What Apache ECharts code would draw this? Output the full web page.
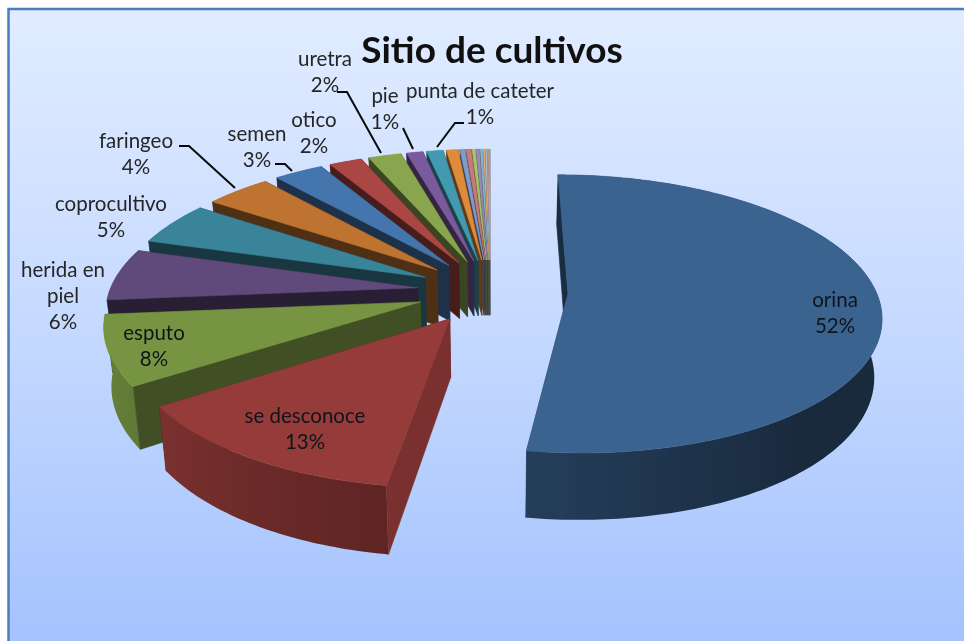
<!DOCTYPE html>
<html>
<head>
<meta charset="utf-8">
<style>html,body{margin:0;padding:0;background:#fff}#chart{width:964px;height:641px}</style>
<script src="https://cdn.jsdelivr.net/npm/echarts@6/dist/echarts.min.js"></script>
</head>
<body>
<div id="chart"></div>
<script>
// Culture sites, percent of samples; the trailing unnamed entries are too small to be labelled.
const categories = ['orina', 'se desconoce', 'esputo', 'herida en piel', 'coprocultivo', 'faringeo',
  'semen', 'otico', 'uretra', 'pie', 'punta de cateter',
  '', '', '', '', '', '', '', '', '', '', ''];
const values = [52, 13, 8, 6, 5, 4, 3, 2, 2, 1, 1,
  0.7, 0.3, 0.3, 0.2, 0.2, 0.15, 0.1, 0.1, 0.05, 0.05, 0.05];
const palette = ['#3A6390', '#953B39', '#779442', '#604A7B', '#3A8499', '#BE7330',
  '#4575AD', '#AA4643', '#89A54E', '#7A5A9C', '#419AB0', '#E08A3C',
  '#7F9CCB', '#C87A78', '#A5C46F', '#9A88B8', '#7FB8CC', '#F0A868',
  '#A9B9D8', '#D9A9A8', '#C4D6A4', '#C8BED8'];

// Label text anchors and elbow leader lines, by category index.
const labelAnchors = [[835, 313], [305, 429], [154, 346], [63, 296], [111, 217], [136, 154],
  [257, 147], [314, 133], [325, 72], [385, 109], [480, 104]];
const leaders = {
  5: [[179, 146], [189, 146], [235, 188]],
  6: [[275, 164], [285, 164], [292, 171]],
  8: [[337, 92], [347, 92], [381, 153]],
  9: [[403, 128], [413, 149]],
  10: [[464, 123], [455, 123], [437, 147]]
};

// Perspective model of the pie: a flat disc seen from above, exploded along each bisector.
const view = { cx: 490, cy: 291, horizon: -640, persp: 4.72e-4, radius: 308, explode: 73, leadExplode: 78, height: 57, baseScale: 0.98 };
const total = values.reduce((a, b) => a + b, 0);
const DEG = Math.PI / 180;

function project(X, Y, isBase) {
  const s = 1 / (1 + view.persp * Y);
  return [
    view.cx + X * s * (isBase ? view.baseScale : 1),
    view.horizon + (view.cy - view.horizon) * s + (isBase ? view.height * s : 0)
  ];
}
function shade(hex, m) {
  const n = parseInt(hex.slice(1), 16);
  const c = [n >> 16, (n >> 8) & 255, n & 255].map(v => Math.round(v * m));
  return 'rgb(' + c.join(',') + ')';
}
function lerpTable(table, a) {
  if (a <= table[0][0]) return table[0][1];
  for (let i = 1; i < table.length; i++) {
    if (a <= table[i][0]) {
      const t = (a - table[i - 1][0]) / (table[i][0] - table[i - 1][0]);
      return table[i - 1][1] + t * (table[i][1] - table[i - 1][1]);
    }
  }
  return table[table.length - 1][1];
}
// Brightness of the rim and of the radial cut faces, by compass angle.
const rimLight = [[0, 0.42], [140, 0.42], [187, 0.62], [234, 0.82], [270, 0.9], [360, 0.9]];
const cutLight = [[0, 0.44], [100, 0.44], [187, 0.82], [234, 0.55], [263, 0.42], [360, 0.42]];

function poly(points, fill, z2) {
  return { type: 'polygon', silent: true, z2: z2, shape: { points: points },
    style: { fill: fill, stroke: fill, lineWidth: 0.6 } };
}
function renderSlice(params, api) {
  const i = params.dataIndex;
  const value = api.value(0);
  let before = 0;
  for (let k = 0; k < i; k++) before += values[k];
  const a0 = before / total * 360;
  const a1 = (before + value) / total * 360;
  const mid = (a0 + a1) / 2 * DEG;
  const pull = i === 0 ? view.leadExplode : view.explode;
  const ox = pull * Math.sin(mid);
  const oy = pull * Math.cos(mid);
  const at = (deg, r, isBase) => project(ox + r * Math.sin(deg * DEG), oy + r * Math.cos(deg * DEG), isBase);
  const color = palette[i];
  const base = i === 0 ? 900 : 800 - i * 10;
  const kids = [];
  const cutFace = a => poly([at(a, 0, false), at(a, view.radius, false), at(a, view.radius, true), at(a, 0, true)],
    shade(color, lerpTable(cutLight, a)), 0);

  // Far cut face first; it is nearly always covered by the rest of the slice
  const far = cutFace(a1); far.z2 = base; kids.push(far);

  // Rim as one polygon; the gradient follows the light along the part that faces the viewer
  const steps = Math.max(2, Math.ceil(a1 - a0));
  const upper = [], lower = [], samples = [];
  for (let s = 0; s <= steps; s++) {
    const a = a0 + (a1 - a0) * s / steps;
    const t = at(a, view.radius, false);
    upper.push(t);
    lower.unshift(at(a, view.radius, true));
    if (Math.cos(a * DEG) <= 0.1) samples.push([t[0], lerpTable(rimLight, a)]);
  }
  let rimFill = shade(color, lerpTable(rimLight, (a0 + a1) / 2));
  if (samples.length > 1) {
    samples.sort((p, q) => p[0] - q[0]);
    const xMin = samples[0][0], xMax = samples[samples.length - 1][0];
    const span = Math.max(1e-3, xMax - xMin);
    rimFill = new echarts.graphic.LinearGradient(xMin, 0, xMax, 0,
      samples.map(p => ({ offset: (p[0] - xMin) / span, color: shade(color, p[1]) })), true);
  }
  kids.push({ type: 'polygon', silent: true, z2: base + 1, shape: { points: upper.concat(lower) },
    style: { fill: rimFill } });

  // Near cut face, then the top face over everything
  const near = cutFace(a0); near.z2 = base + 2; kids.push(near);
  const top = [at(a0, 0, false)].concat(upper);
  kids.push(poly(top, color, base + 3));

  // Text label and leader line
  if (labelAnchors[i]) {
    const name = categories[i].indexOf(' en ') > 0 ? categories[i].replace('en ', 'en\n') : categories[i];
    const [lx, ly] = labelAnchors[i];
    kids.push({ type: 'text', silent: true, z2: 2000, x: lx, y: ly, style: {
      text: name + '\n' + Math.round(value) + '%', fill: i < 3 ? '#10151c' : '#262626',
      font: '20.5px Lato, "Open Sans", sans-serif', align: 'center', verticalAlign: 'middle', lineHeight: 26 } });
  }
  if (leaders[i]) {
    kids.push({ type: 'polyline', silent: true, z2: 1999, shape: { points: leaders[i] },
      style: { stroke: '#0a0a0a', lineWidth: 2, fill: null } });
  }
  return { type: 'group', children: kids };
}

const chart = echarts.init(document.getElementById('chart'), null, { renderer: 'canvas' });
chart.setOption({
  animation: false,
  backgroundColor: '#ffffff',
  title: {
    text: 'Sitio de cultivos', left: 487, top: 28, textAlign: 'center',
    textStyle: { fontFamily: 'Lato, "Open Sans", sans-serif', fontWeight: 'bold', fontSize: 37, color: '#101010' }
  },
  graphic: [{
    type: 'rect', z: -1, silent: true,
    shape: { x: 8.5, y: 9, width: 970, height: 650 },
    style: {
      fill: new echarts.graphic.LinearGradient(0, 0, 0, 1, [
        { offset: 0, color: '#E1ECFF' }, { offset: 0.5, color: '#C5D9FF' }, { offset: 1, color: '#A2C1FD' }]),
      stroke: '#4A7EBB', lineWidth: 2.5
    }
  }],
  series: [{
    type: 'custom',
    coordinateSystem: 'none',
    renderItem: renderSlice,
    data: values.map((v, i) => ({ name: categories[i], value: [v] }))
  }]
});
</script>
</body>
</html>
